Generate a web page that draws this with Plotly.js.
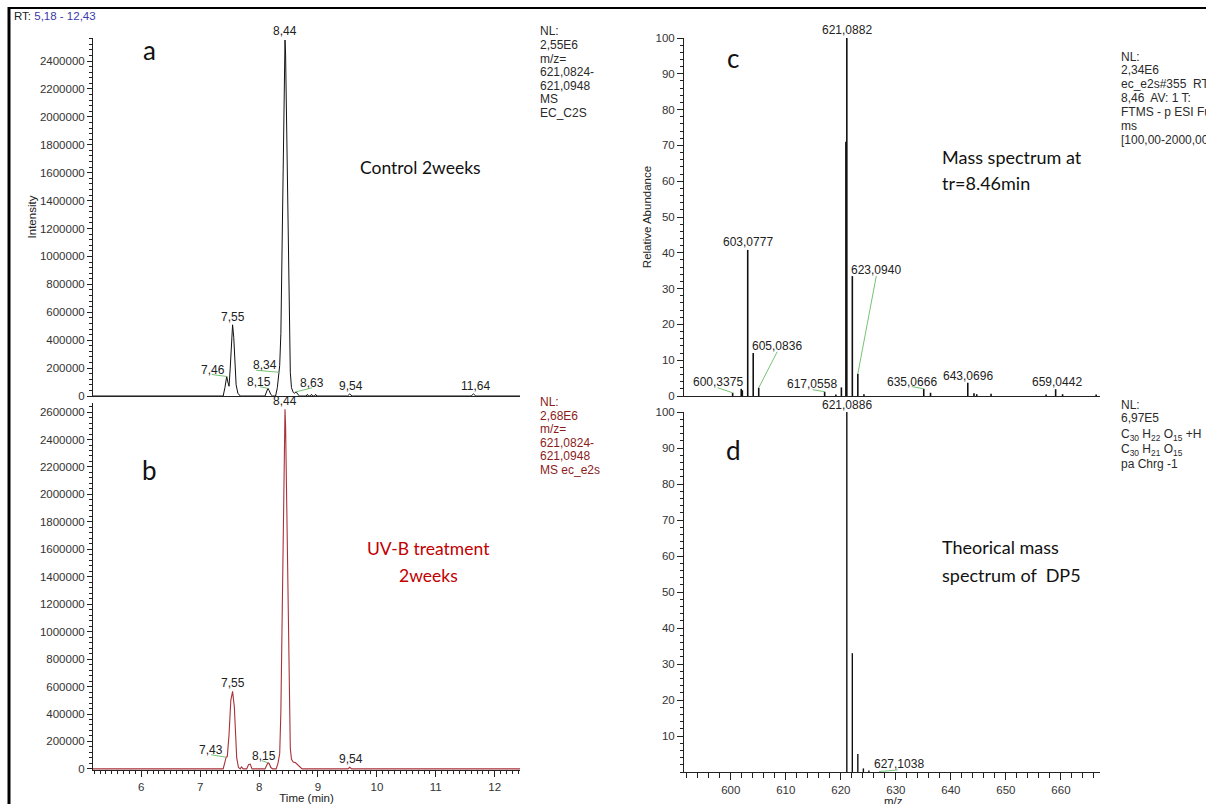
<!DOCTYPE html>
<html><head><meta charset="utf-8">
<script src="https://cdn.plot.ly/plotly-3.0.1.min.js"></script>
<style>html,body{margin:0;padding:0;background:#fff}#chart{width:1206px;height:804px}</style>
</head><body><div id="chart"></div>
<script>
// ---------- DATA ----------
// Panel a: control 2 weeks, extracted ion chromatogram m/z 621,0824-621,0948
const timeA = [5.18, 7.39, 7.42, 7.45, 7.47, 7.49, 7.51, 7.53, 7.55, 7.57, 7.59, 7.61, 7.64, 7.68, 8.10, 8.13, 8.15, 8.17, 8.20, 8.23, 8.28, 8.31, 8.34, 8.35, 8.37, 8.39, 8.41, 8.43, 8.44, 8.45, 8.47, 8.49, 8.51, 8.53, 8.55, 8.58, 8.60, 8.63, 8.66, 8.69, 8.80, 8.82, 8.84, 8.87, 8.89, 8.91, 8.94, 8.96, 8.98, 9.50, 9.54, 9.58, 11.60, 11.64, 11.68, 12.43];
const intensityA = [0, 0, 60000, 140000, 100000, 70000, 200000, 420000, 510000, 420000, 220000, 80000, 20000, 0, 0, 40000, 55000, 40000, 10000, 0, 0, 60000, 170000, 220000, 450000, 1000000, 1700000, 2350000, 2550000, 2450000, 1900000, 1150000, 500000, 170000, 60000, 25000, 20000, 30000, 10000, 0, 0, 12000, 0, 0, 12000, 0, 0, 12000, 0, 0, 15000, 0, 0, 15000, 0, 0];
// Panel b: UV-B treatment 2 weeks
const timeB = [5.18, 7.39, 7.42, 7.44, 7.46, 7.49, 7.52, 7.55, 7.58, 7.60, 7.62, 7.65, 7.68, 7.70, 7.73, 7.79, 7.82, 7.85, 7.88, 8.10, 8.13, 8.15, 8.17, 8.20, 8.23, 8.29, 8.32, 8.35, 8.37, 8.39, 8.41, 8.43, 8.44, 8.45, 8.47, 8.49, 8.51, 8.53, 8.55, 8.58, 8.62, 8.66, 8.70, 8.73, 9.51, 9.54, 9.57, 12.43];
const intensityB = [0, 0, 50000, 85000, 90000, 250000, 500000, 565000, 450000, 230000, 80000, 10000, 0, 15000, 0, 0, 30000, 35000, 0, 0, 30000, 45000, 40000, 10000, 0, 0, 40000, 110000, 420000, 1100000, 1900000, 2450000, 2620000, 2500000, 1850000, 1100000, 450000, 150000, 70000, 50000, 45000, 30000, 10000, 0, 0, 12000, 0, 0];
const peakLabelsA = ['7,46', '7,55', '8,15', '8,34', '8,44', '8,63', '9,54', '11,64'];
const peakTimesA = [7.45, 7.55, 8.15, 8.34, 8.44, 8.63, 9.54, 11.64];
const peakLabelsB = ['7,43', '7,55', '8,15', '8,44', '9,54'];
const peakTimesB = [7.44, 7.55, 8.15, 8.44, 9.54];
// Panel c: measured mass spectrum at tr = 8.46 min
const mzC = [600.34, 601.9, 602.1, 603.08, 604.08, 605.08, 617.06, 619.1, 620.1, 620.92, 621.09, 622.09, 623.09, 624.2, 635.07, 636.3, 643.07, 644.2, 644.7, 647.3, 657.3, 659.04, 660.3, 666.4];
const abundC = [0.9, 2.0, 1.6, 40.8, 12.0, 2.3, 1.2, 0.4, 2.4, 71, 100, 33.5, 6.2, 0.5, 2.0, 0.9, 3.7, 0.8, 0.5, 0.6, 0.4, 1.9, 0.5, 0.4];
const stickLabelsC = ['600,3375', '603,0777', '605,0836', '617,0558', '621,0882', '623,0940', '635,0666', '643,0696', '659,0442'];
const stickMzC = [600.34, 603.08, 605.08, 617.06, 621.09, 623.09, 635.07, 643.07, 659.04];
// Panel d: theoretical mass spectrum of DP5
const mzD = [621.09, 622.09, 623.09, 624.1, 625.1, 627.1];
const abundD = [100, 33, 5.0, 1.0, 0.4, 0.15];
const stickLabelsD = ['621,0886', '627,1038'];
const stickMzD = [621.09, 627.1];
// Axis tick values
const timeTicks = [6, 7, 8, 9, 10, 11, 12];
const mzTicks = [600, 610, 620, 630, 640, 650, 660];
const abundTicks = [10, 20, 30, 40, 50, 60, 70, 80, 90, 100];
// Instrument info texts
const infoA = ['NL:', '2,55E6', 'm/z=', '621,0824-', '621,0948', 'MS', 'EC_C2S'];
const infoB = ['NL:', '2,68E6', 'm/z=', '621,0824-', '621,0948', 'MS ec_e2s'];
const infoC = ['NL:', '2,34E6', 'ec_e2s#355  RT:', '8,46  AV: 1 T:', 'FTMS - p ESI Full', 'ms', '[100,00-2000,00]'];
const infoD = ['NL:', '6,97E5', 'C<sub>30</sub> H<sub>22</sub> O<sub>15</sub> +H', 'C<sub>30</sub> H<sub>21</sub> O<sub>15</sub>', 'pa Chrg -1'];

// ---------- HELPERS ----------
const W = 1206, H = 804;
const px = x => x / W;
const py = y => 1 - y / H;
const FONT = 'Liberation Sans, Arial, sans-serif';
const BIG = 'Lato, Open Sans, sans-serif';
const GREEN = '#74c474';

// axis geometry (domains in paper fraction, ranges in data units)
const GEO = {
  x: { domain: [px(93), px(520)], range: [5.18, 12.43] },
  y: { domain: [py(396), py(38)], range: [0, 2564800] },
  x2: { domain: [px(93), px(520)], range: [5.18, 12.43] },
  y2: { domain: [py(770), py(403)], range: [-8000, 2666000] },
  x3: { domain: [px(684), px(1100)], range: [591.5, 667.1] },
  y3: { domain: [py(396), py(38)], range: [0, 100] },
  x4: { domain: [px(684), px(1100)], range: [591.5, 667.1] },
  y4: { domain: [py(772), py(412)], range: [0, 100] }
};
function unitsPerPx(ax, size) {
  const g = GEO[ax];
  return (g.range[1] - g.range[0]) / ((g.domain[1] - g.domain[0]) * size);
}

function nearest(xs, ys, x) {
  let best = 0;
  for (let i = 1; i < xs.length; i++) if (Math.abs(xs[i] - x) < Math.abs(xs[best] - x)) best = i;
  return ys[best];
}
function sticks(xs, ys) {
  const X = [], Y = [];
  xs.forEach((x, i) => { X.push(x, x, null); Y.push(0, ys[i], null); });
  return { X, Y };
}
const sc = sticks(mzC, abundC);
const sd = sticks(mzD, abundD);

const traces = [
  { type: 'scatter', mode: 'lines', x: timeA, y: intensityA, xaxis: 'x', yaxis: 'y',
    line: { color: '#111', width: 1 }, hoverinfo: 'skip' },
  { type: 'scatter', mode: 'lines', x: timeB, y: intensityB, xaxis: 'x2', yaxis: 'y2',
    line: { color: '#a8323a', width: 1.1 }, hoverinfo: 'skip' },
  { type: 'scatter', mode: 'lines', x: sc.X, y: sc.Y, xaxis: 'x3', yaxis: 'y3',
    line: { color: '#111', width: 1.6 }, hoverinfo: 'skip', connectgaps: false },
  { type: 'scatter', mode: 'lines', x: sd.X, y: sd.Y, xaxis: 'x4', yaxis: 'y4',
    line: { color: '#111', width: 1.4 }, hoverinfo: 'skip', connectgaps: false }
];

// green leader lines, one trace per panel
const leaders = {};
const ann = [];
const LBL = { family: FONT, size: 12, color: '#222' };
function ptext(x, y, text, o = {}) {
  ann.push(Object.assign({ xref: 'paper', yref: 'paper', x: px(x), y: py(y), text, showarrow: false,
    xanchor: 'center', yanchor: 'middle', font: LBL }, o));
}
function dlabel(xa, ya, x, y, text, dx, dy, leader) {
  ann.push({ xref: xa, yref: ya, x, y, text, showarrow: false, xanchor: 'center', yanchor: 'middle',
    xshift: dx, yshift: -dy, font: LBL });
  if (leader) {
    const key = xa + ya;
    if (!leaders[key]) leaders[key] = { xa, ya, X: [], Y: [] };
    const ux = unitsPerPx(xa, W), uy = unitsPerPx(ya, H);
    leaders[key].X.push(x, x + leader[0] * ux, null);
    leaders[key].Y.push(y, y - leader[1] * uy, null);
  }
}
function block(x, ys, lines, color) {
  lines.forEach((t, i) => ptext(x, ys[i], t, { xanchor: 'left', font: { family: FONT, size: 12, color } }));
}

// peak label offsets (style)
const offA = [[-14, -6.5, [-15, -2]], [0, -8, null], [-9, -6.6, [-8, -1.5]], [-14.5, -7.5, [-23, -2]],
  [0, -9, null], [16, -8.5, [16, -4]], [1, -8, null], [2, -8, null]];
peakLabelsA.forEach((l, i) => { const o = offA[i];
  dlabel('x', 'y', peakTimesA[i], nearest(timeA, intensityA, peakTimesA[i]), l, o[0], o[1], o[2]); });
const offB = [[-15, -7, [-15, -2.5]], [0, -8, null], [-4, -6.7, [-6, -2]], [0, -8, null], [1, -8, null]];
peakLabelsB.forEach((l, i) => { const o = offB[i];
  dlabel('x2', 'y2', peakTimesB[i], nearest(timeB, intensityB, peakTimesB[i]), l, o[0], o[1], o[2]); });
const offC = [[-15, -10.5, [-15, -5]], [0, -8, null], [18, -42, [18.5, -36]], [-13, -8, [-12, -2]],
  [0, -7.5, null], [18, -104, [18.5, -98]], [-12, -7, [-12, -2.3]], [0, -6.5, null], [1, -7.5, null]];
stickLabelsC.forEach((l, i) => { const o = offC[i];
  dlabel('x3', 'y3', stickMzC[i], nearest(mzC, abundC, stickMzC[i]), l, o[0], o[1], o[2]); });
const offD = [[0, -7, null], [19, -7, [18, -1.5]]];
stickLabelsD.forEach((l, i) => { const o = offD[i];
  dlabel('x4', 'y4', stickMzD[i], nearest(mzD, abundD, stickMzD[i]), l, o[0], o[1], o[2]); });

Object.values(leaders).forEach(L => traces.push({ type: 'scatter', mode: 'lines', x: L.X, y: L.Y,
  xaxis: L.xa, yaxis: L.ya, line: { color: GREEN, width: 1 }, hoverinfo: 'skip', cliponaxis: false, connectgaps: false }));

// header / info texts
ptext(12, 16, 'RT: <span style="color:#3a3aa8">5,18 - 12,43</span>', { xanchor: 'left', font: { family: FONT, size: 11.5, color: '#222' } });
block(538, [31, 45, 59, 72, 86, 99, 113], infoA, '#2a2a2a');
block(538, [402, 415.5, 429, 442.5, 456, 469.5], infoB, '#8a1c1c');
block(1119, [57, 70, 84, 98, 112, 126, 140], infoC, '#2a2a2a');
block(1119, [405, 418, 435, 450, 464], infoD, '#2a2a2a');

// panel letters and captions
const bigF = (s, c) => ({ family: BIG, size: s, color: c || '#111' });
ptext(149, 50, 'a', { font: bigF(26) });
ptext(149, 470, 'b', { font: bigF(26) });
ptext(733, 58, 'c', { font: bigF(26) });
ptext(733, 450, 'd', { font: bigF(26) });
ptext(420, 168, 'Control 2weeks', { font: bigF(17.5) });
ptext(428, 548, 'UV-B treatment', { font: bigF(17.5, '#c00000') });
ptext(428, 575, '2weeks', { font: bigF(17.5, '#c00000') });
ptext(940, 157, 'Mass spectrum at', { xanchor: 'left', font: bigF(18) });
ptext(940, 183, 'tr=8.46min', { xanchor: 'left', font: bigF(18) });
ptext(940, 547, 'Theorical mass', { xanchor: 'left', font: bigF(18) });
ptext(940, 575, 'spectrum of  DP5', { xanchor: 'left', font: bigF(18) });

const tickF = { family: FONT, size: 11.5, color: '#333' };
const titleF = { family: FONT, size: 11.5, color: '#222' };
// x-axis title of panel d sits partly below the page edge, as in the original figure
ptext(893, 801, 'm/z', { font: titleF });

const base = { showgrid: false, zeroline: false, showline: true, linecolor: '#222', linewidth: 1,
  tickcolor: '#222', tickfont: tickF, fixedrange: true };
const minorT = (d, len) => ({ dtick: d, tick0: 0, ticks: 'outside', ticklen: len, tickcolor: '#222', showgrid: false });

const shapes = [
  { type: 'line', xref: 'paper', yref: 'paper', x0: px(9), x1: px(9), y0: 0, y1: py(7), line: { color: '#000', width: 3 } },
  { type: 'line', xref: 'paper', yref: 'paper', x0: px(8), x1: 1, y0: py(8), y1: py(8), line: { color: '#000', width: 2 } }
];

const layout = {
  width: W, height: H, margin: { l: 0, r: 0, t: 0, b: 0 },
  paper_bgcolor: '#fff', plot_bgcolor: 'rgba(0,0,0,0)', showlegend: false,
  xaxis: Object.assign({}, base, GEO.x, { anchor: 'y', ticks: '', showticklabels: false, tickmode: 'array', tickvals: [] }),
  yaxis: Object.assign({}, base, GEO.y, { anchor: 'x',
    ticks: 'outside', ticklen: 5, dtick: 200000, tick0: 0, tickformat: 'd', minor: minorT(40000, 3),
    title: { text: 'Intensity', font: titleF } }),
  xaxis2: Object.assign({}, base, GEO.x2, { anchor: 'y2',
    ticks: 'outside', ticklen: 6, tickvals: timeTicks, ticktext: timeTicks.map(String), layer: 'below traces',
    minor: minorT(0.1, 3), title: { text: 'Time (min)', font: titleF } }),
  yaxis2: Object.assign({}, base, GEO.y2, { anchor: 'x2',
    ticks: 'outside', ticklen: 5, dtick: 200000, tick0: 0, tickformat: 'd', minor: minorT(40000, 3) }),
  xaxis3: Object.assign({}, base, GEO.x3, { anchor: 'y3', ticks: '', showticklabels: false, tickmode: 'array', tickvals: [] }),
  yaxis3: Object.assign({}, base, GEO.y3, { anchor: 'x3',
    ticks: 'outside', ticklen: 6, tickvals: [0].concat(abundTicks), ticktext: ['0'].concat(abundTicks.map(String)),
    minor: minorT(2, 3), title: { text: 'Relative Abundance', font: titleF } }),
  xaxis4: Object.assign({}, base, GEO.x4, { anchor: 'y4',
    ticks: 'outside', ticklen: 7, tickvals: mzTicks, ticktext: mzTicks.map(String), minor: minorT(2, 5) }),
  yaxis4: Object.assign({}, base, GEO.y4, { anchor: 'x4',
    ticks: 'outside', ticklen: 6, tickvals: abundTicks, ticktext: abundTicks.map(String), minor: minorT(2, 3) }),
  annotations: ann,
  shapes: shapes
};

Plotly.newPlot('chart', traces, layout, { staticPlot: true, displayModeBar: false });
</script>
</body></html>
